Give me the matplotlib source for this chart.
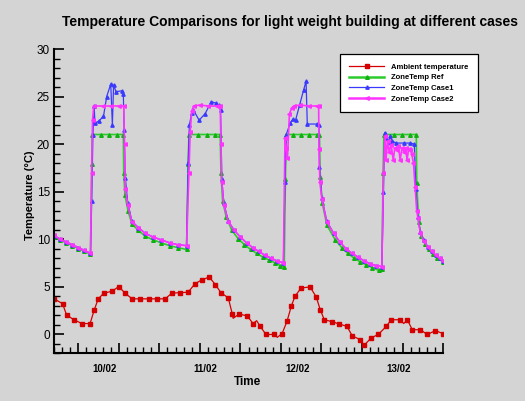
import numpy as np
import matplotlib
matplotlib.use('Agg')
import matplotlib.pyplot as plt
from matplotlib.ticker import FixedLocator, MultipleLocator, NullFormatter
from matplotlib.transforms import blended_transform_factory
from matplotlib.lines import Line2D

plt.rcParams['font.family'] = ['Liberation Sans', 'DejaVu Sans']

# ===== data (hours from start of 10/02) =====
amb_hours = [0, 2.1, 3.1, 4.9, 6.9, 8.9, 9.9, 10.9, 12.3, 14.3, 16.0, 17.5, 19.3, 21.2,
             23.4, 25.4, 27.4, 29.1, 31.1, 33.1, 34.8, 36.5, 38.3, 39.8, 41.2, 43.0, 44.0,
             45.7, 47.7, 49.1, 50.9, 52.3, 54.3, 56.3, 57.5, 58.6, 59.5, 61.0, 63.2, 64.7,
             65.7, 66.7, 68.6, 70.4, 72.3, 73.6, 75.6, 76.5, 78.3, 80.0, 82.0, 83.2, 85.4,
             87.2, 88.4, 90.4, 92.1, 94.1, 96.0]
amb_temp = [3.7, 3.2, 2.0, 1.5, 1.1, 1.1, 2.5, 3.7, 4.3, 4.5, 5.0, 4.3, 3.7, 3.7,
            3.7, 3.7, 3.7, 4.3, 4.35, 4.4, 5.3, 5.7, 6.0, 5.2, 4.35, 3.8, 2.1,
            2.1, 1.9, 1.1, 0.8, -0.05, -0.05, 0.05, 1.35, 3.0, 4.0, 4.85, 4.95, 3.9,
            2.55, 1.5, 1.3, 1.05, 0.8, -0.2, -0.6, -1.2, -0.4, -0.05, 0.8, 1.5, 1.5,
            1.5, 0.45, 0.45, -0.05, 0.35, 0.05]
# unmarked wiggles of the ambient line
amb_extra_hours = [44.2, 50.0, 55.1, 86.3]
amb_extra_temp = [1.65, 1.4, -0.35, 1.1]

ref_hours = [0, 1.5, 3, 4.5, 6, 7.5, 9.0, 9.3, 9.4, 11.5, 13.6, 15.6, 17.1, 17.2, 17.5,
             18.3, 19.2, 20.8, 22.5, 24.5, 26.5, 28.5, 30.5, 32.7, 33.1, 33.3, 35.6, 37.7,
             39.7, 41.0, 41.2, 41.6, 42.5, 43.9, 45.5, 47.0, 48.5, 50.0, 51.5, 53.0, 54.5,
             55.8, 56.8, 57.1, 57.3, 58.9, 60.9, 62.9, 64.9, 65.5, 65.7, 66.2, 67.3, 69.4,
             71.0, 72.5, 74.0, 75.5, 77.0, 78.5, 80.1, 80.9, 81.2, 81.4, 83.8, 85.8, 87.9,
             89.4, 89.5, 90.0, 90.6, 91.5, 92.5, 93.5, 94.5, 96.0]
ref_temp = [10.2, 9.9, 9.6, 9.3, 9.0, 8.7, 8.4, 17.9, 21.0, 21.0, 21.0, 21.0, 21.0, 17.0, 14.6,
            12.9, 11.6, 10.9, 10.3, 9.9, 9.6, 9.3, 9.1, 8.9, 17.9, 21.0, 21.0, 21.0,
            21.0, 21.0, 16.9, 14.0, 12.3, 10.9, 10.0, 9.4, 8.9, 8.5, 8.1, 7.8, 7.5,
            7.2, 7.1, 16.3, 21.0, 21.0, 21.0, 21.0, 21.0, 21.0, 16.5, 13.8, 11.5, 9.9,
            9.1, 8.5, 8.0, 7.6, 7.3, 7.0, 6.7, 6.8, 17.0, 21.0, 21.0, 21.0, 21.0,
            21.0, 15.9, 11.8, 10.3, 9.5, 8.9, 8.4, 8.0, 7.6]

case1_hours = [0, 1.5, 3, 4.5, 6, 7.5, 9.0, 9.3, 9.6, 9.9, 10.1, 11.0, 12.2, 13.0, 14.0,
               14.4, 14.7, 15.3, 16.7, 17.1, 17.3, 17.6, 18.2, 19.2, 20.8, 22.5, 24.5,
               26.5, 28.5, 30.5, 32.7, 33.1, 33.4, 34.0, 34.4, 35.8, 37.3, 38.8, 40.0,
               40.6, 41.1, 41.4, 41.9, 43.0, 44.5, 46.0, 47.5, 49.0, 50.5, 52.0, 53.5,
               55.0, 56.6, 57.0, 57.3, 58.3, 58.9, 59.6, 60.6, 61.6, 62.2, 62.5, 64.9,
               65.4, 65.5, 66.1, 67.3, 69.0, 70.5, 72.0, 73.5, 75.0, 76.5, 78.0, 79.5,
               80.9, 81.3, 81.6, 82.0, 82.6, 83.0, 83.5, 84.4, 86.3, 87.9, 88.9, 89.3,
               89.8, 90.4, 91.2, 92.2, 93.2, 94.2, 95.2, 96.0]
case1_temp = [10.35, 10.0, 9.7, 9.4, 9.1, 8.8, 8.5, 14.0, 21.0, 24.0, 22.2, 22.4, 22.9, 25.0, 26.3,
              22.0, 26.2, 25.5, 25.6, 25.3, 21.5, 16.4, 13.8, 11.9, 11.2, 10.6, 10.2,
              9.9, 9.6, 9.4, 9.3, 18.0, 22.0, 23.3, 23.6, 22.5, 23.2, 24.45, 24.3,
              24.1, 23.6, 16.3, 13.8, 11.9, 10.9, 10.2, 9.6, 9.1, 8.7, 8.3, 8.0,
              7.7, 7.5, 16.0, 21.0, 22.2, 22.6, 22.5, 24.1, 25.7, 26.6, 22.1, 22.1,
              22.0, 17.6, 14.3, 11.9, 10.6, 9.7, 9.0, 8.5, 8.1, 7.7, 7.4, 7.2,
              7.1, 15.0, 21.2, 20.6, 20.2, 20.8, 20.3, 20.1, 20.1, 20.1, 20.0, 15.3,
              12.3, 10.7, 9.9, 9.2, 8.7, 8.3, 8.0, 7.7]

case2_hours = [0, 1.5, 3, 4.5, 6, 7.5, 9.0, 9.3, 9.5, 9.8, 12.1, 14.1, 16.1, 17.2, 17.4,
               17.6, 18.2, 19.2, 20.8, 22.5, 24.5, 26.5, 28.5, 30.5, 32.7, 33.3, 33.6,
               34.0, 34.5, 36.0, 38.1, 40.2, 41.0, 41.2, 41.4, 41.9, 43.0, 44.5, 46.0,
               47.5, 49.0, 50.5, 52.0, 53.5, 55.0, 56.6, 57.0, 57.3, 57.6, 58.1, 58.7,
               59.2, 60.7, 62.9, 64.9, 65.3, 65.4, 65.6, 66.1, 67.3, 69.0, 70.5, 72.0,
               73.5, 75.0, 76.5, 78.0, 79.5, 80.9, 81.3, 81.7, 81.9, 82.3, 82.7, 83.2,
               83.7, 84.1, 84.6, 85.0, 85.4, 85.9, 86.4, 86.8, 87.1, 87.5, 87.9, 88.3,
               88.7, 89.1, 89.5, 89.8, 90.4, 91.2, 92.2, 93.2, 94.2, 95.2, 96.0]
case2_temp = [10.4, 10.0, 9.7, 9.4, 9.1, 8.8, 8.5, 17.0, 22.5, 24.0, 24.0, 24.0, 24.0, 24.0, 20.0,
              15.3, 13.6, 11.8, 11.2, 10.6, 10.2, 9.9, 9.6, 9.4, 9.3, 17.0, 21.3,
              23.5, 24.0, 24.1, 24.0, 24.0, 24.0, 20.0, 16.0, 13.6, 11.8, 10.9, 10.2,
              9.6, 9.1, 8.7, 8.3, 8.0, 7.7, 7.5, 20.6, 19.6, 18.5, 23.2, 23.8,
              24.0, 24.1, 24.0, 24.0, 24.0, 19.5, 16.0, 14.2, 11.8, 10.6, 9.7, 9.0,
              8.5, 8.1, 7.7, 7.4, 7.2, 7.1, 17.0, 20.8, 18.3, 20.3, 19.2, 19.9,
              18.3, 19.6, 19.4, 19.8, 18.3, 19.6, 19.2, 19.6, 18.3, 19.5, 19.4, 18.9,
              18.0, 15.5, 13.0, 12.2, 10.6, 9.8, 9.2, 8.7, 8.3, 8.0, 7.7]

date_labels = ['10/02', '11/02', '12/02', '13/02']
date_pos = [12.5, 37.4, 60.1, 85.1]

# ===== colours =====
bg = '#d4d4d4'
c_amb = '#d40000'
c_ref = '#2ccc2c'
c_c1 = '#3a3aff'
c_c2 = '#ff33ff'

fig = plt.figure(figsize=(5.25, 4.01), dpi=100, facecolor=bg)
ax = fig.add_axes([0.1029, 0.1197, 0.7410, 0.7581], facecolor=bg)

# ambient: line through all points, markers only on the sampled ones
amb_all = sorted(zip(amb_hours + amb_extra_hours, amb_temp + amb_extra_temp))
ax.plot([p[0] for p in amb_all], [p[1] for p in amb_all], color=c_amb, lw=0.9)
ax.plot(amb_hours, amb_temp, ls='none', marker='s', ms=3.2, color=c_amb)

ax.plot(ref_hours, ref_temp, color=c_ref, lw=1.2, marker='^', ms=2.6, mec='#10b010', mfc='#10b010')
ax.plot(case1_hours, case1_temp, color=c_c1, lw=0.9, marker='^', ms=2.4)
ax.plot(case2_hours, case2_temp, color=c_c2, lw=1.2, marker='<', ms=2.6)

ax.set_xlim(0, 96)
ax.set_ylim(-2, 30)
ax.xaxis.set_major_locator(FixedLocator(np.arange(6, 97, 10)))
ax.xaxis.set_minor_locator(FixedLocator(np.arange(0, 97, 2)))
ax.xaxis.set_major_formatter(NullFormatter())
ax.yaxis.set_major_locator(MultipleLocator(5))
ax.yaxis.set_minor_locator(MultipleLocator(1))
ax.tick_params(which='major', direction='in', length=7, width=1.2, labelsize=8.5, pad=3)
ax.tick_params(which='minor', direction='in', length=4, width=1.0)

for s in ['top', 'right']:
    ax.spines[s].set_visible(False)
for s in ['left', 'bottom']:
    ax.spines[s].set_linewidth(1.5)

trans = blended_transform_factory(ax.transData, ax.transAxes)
for pos, lab in zip(date_pos, date_labels):
    ax.text(pos, -0.053, lab, transform=trans, ha='center', va='center',
            fontsize=7, fontweight='bold')

fig.text(290 / 525, 1 - 22 / 401,
         'Temperature Comparisons for light weight building at different cases',
         ha='center', va='center', fontsize=10, fontweight='bold')
fig.text(30 / 525, 1 - 195 / 401, 'Temperature (°C)', rotation=90,
         ha='center', va='center', fontsize=8, fontweight='bold')
fig.text(248 / 525, 1 - 382 / 401, 'Time', ha='center', va='center',
         fontsize=8.5, fontweight='bold')

handles = [
    Line2D([], [], color=c_amb, lw=0.9, marker='s', ms=3.2),
    Line2D([], [], color=c_ref, lw=1.8, marker='^', ms=2.6, mec='#10b010', mfc='#10b010'),
    Line2D([], [], color=c_c1, lw=0.9, marker='^', ms=2.4),
    Line2D([], [], color=c_c2, lw=1.8, marker='<', ms=2.6),
]
labels = ['Ambient temperature', 'ZoneTemp Ref', 'ZoneTemp Case1', 'ZoneTemp Case2']
leg = ax.legend(handles, labels, loc='upper left', bbox_to_anchor=(340 / 525, 1 - 54 / 401),
                bbox_transform=fig.transFigure, borderaxespad=0, fancybox=False,
                framealpha=1, facecolor='white', edgecolor='black',
                prop={'size': 5.5, 'weight': 'bold'}, handlelength=4.6,
                borderpad=1.2, labelspacing=0.45, handletextpad=0.9)
leg.get_frame().set_linewidth(0.9)

plt.savefig('out.png', dpi=100, facecolor=bg)
